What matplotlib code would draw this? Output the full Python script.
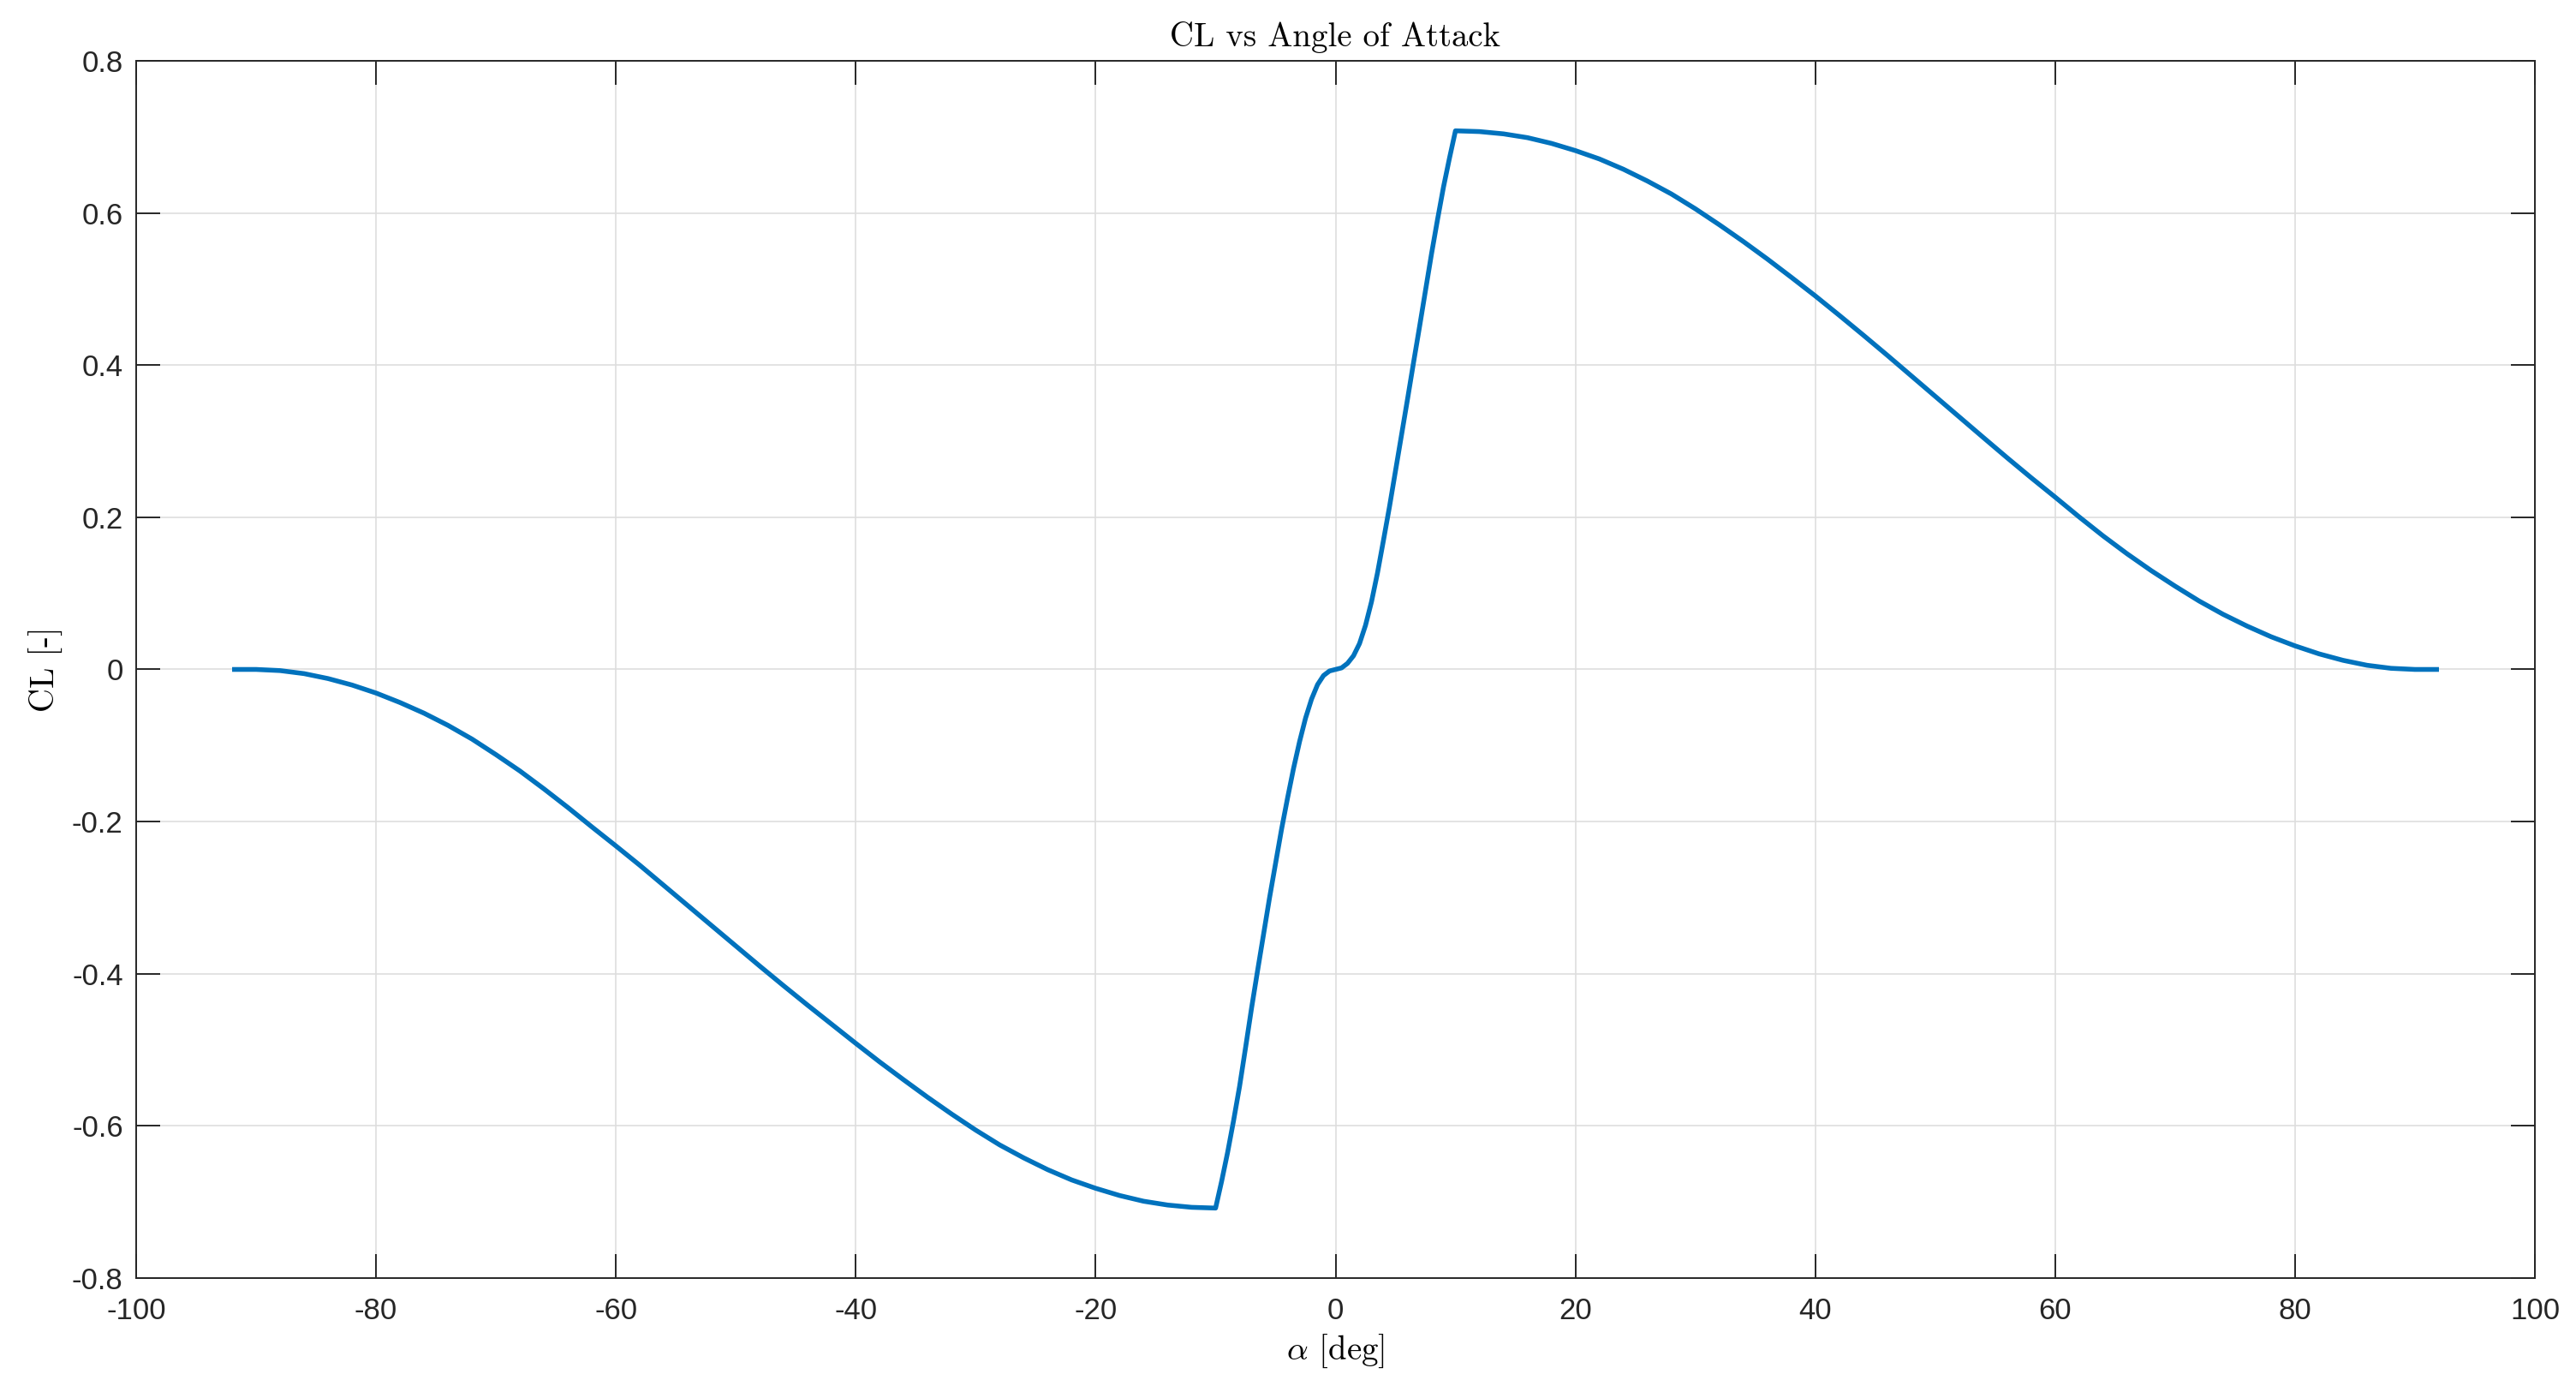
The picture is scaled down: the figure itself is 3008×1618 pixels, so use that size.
import matplotlib
matplotlib.use("Agg")
import matplotlib.pyplot as plt
from matplotlib.ticker import FuncFormatter

# ---- data ----
alpha_deg = [
    -92, -90, -88, -86, -84, -82, -80, -78, -76, -74, -72, -70, -68, -66, -64,
    -62, -60, -58, -56, -54, -52, -50, -48, -46, -44, -42, -40, -38, -36, -34,
    -32, -30, -28, -26, -24, -22, -20, -18, -16, -14, -12, -10,
    -9.5, -9, -8.5, -8, -7.5, -7, -6.5, -6, -5.5, -5, -4.5, -4, -3.5, -3,
    -2.5, -2, -1.5, -1, -0.5, 0,
    0.5, 1, 1.5, 2, 2.5, 3, 3.5, 4, 4.5, 5, 5.5, 6, 6.5, 7, 7.5, 8, 8.5, 9,
    9.5, 10,
    12, 14, 16, 18, 20, 22, 24, 26, 28, 30, 32, 34, 36, 38, 40, 42, 44,
    46, 48, 50, 52, 54, 56, 58, 60, 62, 64, 66, 68, 70, 72, 74, 76, 78, 80,
    82, 84, 86, 88, 90, 92,
]
cl_values = [
    0.0, 0.0, -0.0015, -0.0055, -0.012, -0.0205, -0.031, -0.0435, -0.0575,
    -0.0735, -0.0915, -0.112, -0.1335, -0.157, -0.1815, -0.207, -0.232,
    -0.2575, -0.284, -0.3105, -0.337, -0.3635, -0.390, -0.416, -0.4415,
    -0.4665, -0.4915, -0.516, -0.5395, -0.5625, -0.5845, -0.6055, -0.625,
    -0.642, -0.6575, -0.671, -0.682, -0.6915, -0.699, -0.704, -0.707, -0.708,
    -0.673, -0.635, -0.593, -0.548, -0.497, -0.445, -0.396, -0.348, -0.300,
    -0.255, -0.210, -0.169, -0.130, -0.095,
    -0.064, -0.039, -0.020, -0.008, -0.002, 0.0,
    0.002, 0.008, 0.018, 0.034, 0.058, 0.089, 0.127, 0.170, 0.214, 0.261,
    0.308, 0.355, 0.403, 0.450, 0.498, 0.546, 0.591, 0.634, 0.672, 0.708,
    0.707, 0.704, 0.699, 0.6915, 0.682, 0.671, 0.6575, 0.642, 0.625, 0.6055,
    0.5845, 0.5625, 0.5395, 0.5155, 0.491, 0.4655, 0.4395, 0.413, 0.386,
    0.359, 0.332, 0.305, 0.2782, 0.252, 0.2265, 0.2005, 0.1755, 0.152, 0.130,
    0.1095, 0.090, 0.0725, 0.057, 0.043, 0.031, 0.0205, 0.012, 0.0055,
    0.0015, 0.0, 0.0,
]
x_ticks = [-100, -80, -60, -40, -20, 0, 20, 40, 60, 80, 100]
y_ticks = [-0.8, -0.6, -0.4, -0.2, 0, 0.2, 0.4, 0.6, 0.8]

title_text = "CL vs Angle of Attack"
xlabel_text = r"$\alpha$ [deg]"
ylabel_text = "CL [-]"

# ---- style ----
plt.rcParams["axes.unicode_minus"] = False
plt.rcParams["mathtext.fontset"] = "cm"
axis_color = "#262626"
line_color = "#0072BD"

W, H, DPI = 3008, 1618, 200
fig = plt.figure(figsize=(W / DPI, H / DPI), dpi=DPI, facecolor="white")
ax = fig.add_axes([159 / W, 1 - 1492 / H, (2960 - 159) / W, (1492 - 71) / H])

ax.plot(alpha_deg, cl_values, color=line_color, linewidth=2.0,
        solid_joinstyle="round", solid_capstyle="butt")

ax.set_xlim(-100, 100)
ax.set_ylim(-0.8, 0.8)
ax.set_xticks(x_ticks)
ax.set_yticks(y_ticks)
ax.xaxis.set_major_formatter(FuncFormatter(lambda v, p: f"{v:g}"))
ax.yaxis.set_major_formatter(FuncFormatter(lambda v, p: f"{v:g}"))

ax.grid(True, color="#dedede", linewidth=0.6)
ax.set_axisbelow(True)

for sp in ax.spines.values():
    sp.set_color(axis_color)
    sp.set_linewidth(0.7)

ax.tick_params(axis="both", which="major", direction="in", length=10.2,
               width=0.7, color=axis_color, top=True, right=True,
               labelsize=12.5, labelcolor=axis_color)
ax.tick_params(axis="x", pad=8)
ax.tick_params(axis="y", pad=5.5)
for lab in ax.get_xticklabels() + ax.get_yticklabels():
    lab.set_fontfamily("Liberation Sans")

ax.set_title(title_text, fontfamily="cmr10", fontsize=14, color="black", pad=6)
ax.set_xlabel(xlabel_text, fontfamily="cmr10", fontsize=14, color="black", labelpad=3)
ax.set_ylabel(ylabel_text, fontfamily="cmr10", fontsize=14, color="black", labelpad=3.5)

fig.savefig("out.png", dpi=DPI, facecolor="white")
